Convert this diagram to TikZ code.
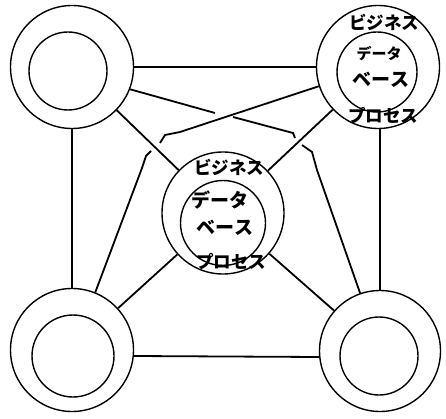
\documentclass[tikz,border=0pt]{standalone}
\usepackage{fontspec}
\newfontfamily\jp{Noto Sans CJK JP}
\begin{document}
\begin{tikzpicture}[x=1pt,y=-1pt,
  ring/.style={circle,draw,line width=1.4pt,minimum size=#1,inner sep=0pt},
  conn/.style={line width=1.8pt},
  lbl/.style={font=\jp\bfseries\fontsize{17.5}{17.5}\selectfont,inner sep=0pt},
  big/.style={font=\jp\bfseries\fontsize{19}{19}\selectfont,inner sep=0pt},
  small/.style={font=\jp\bfseries\fontsize{15}{15}\selectfont,inner sep=0pt}]
\useasboundingbox (0,0) rectangle (446,419);
% outer rings
\node[ring=123pt] (tl) at (72,67) {};
\node[ring=123pt] (tr) at (378,67) {};
\node[ring=122pt] (c) at (223,213) {};
\node[ring=123pt] (bl) at (72,350) {};
\node[ring=121pt] (br) at (380,351) {};
% inner rings
\node[ring=78pt] (tli) at (68,71) {};
\node[ring=80pt] (tri) at (377,72) {};
\node[ring=85pt] (ci) at (223,223) {};
\node[ring=82pt] (bli) at (73,356) {};
\node[ring=78pt] (bri) at (379,356) {};
% labels
\node[lbl] (cb) at (229,167) {ビジネス};
\node[big] (cd) at (220,200) {データ};
\node[big] (cv) at (225,228) {ベース};
\node[lbl] (cp) at (231,262) {プロセス};
\node[lbl] (tb) at (384,22) {ビジネス};
\node[small] (td) at (379,54) {データ};
\node[big] (tv) at (381,80) {ベース};
\node[lbl] (tp) at (383,116) {プロセス};
% straight connectors
\draw[conn] (tl) -- (tr);
\draw[conn] (tl.south) -- (bl.north);
\draw[conn] (tr.south -| br.north) -- (br.north);
\draw[conn] ([yshift=-6pt]bl.east) -- ([yshift=-6pt]br.west);
\draw[conn] (tl) -- (c);
\draw[conn] (tr) -- (c);
\draw[conn] (c) -- (bl);
\draw[conn] (c) -- (br);
% crossing line TL -> BR with gaps
\coordinate (a1) at (215,113);
\coordinate (a2) at (233,117);
\coordinate (a3) at (293,133);
\coordinate (a4) at (295,138);
\coordinate (a5) at (302,145);
\coordinate (a6) at (312,152);
\coordinate (a7) at (317,170);
\draw[conn] (tl.-21) -- (a1);
\draw[conn] (a2) -- (a3) -- (a4);
\draw[conn] (a5) -- (a6) -- (a7) -- (br.109);
% crossing line TR -> BL with gap
\coordinate (b1) at (180,132);
\coordinate (b2) at (165,135);
\coordinate (b3) at (160,143);
\coordinate (b4) at (151,151);
\coordinate (b5) at (146,156);
\coordinate (b6) at (142,168);
\draw[conn] (tr.198) -- (b1) -- (b2) -- (b3);
\draw[conn] (b4) -- (b5) -- (b6) -- (bl.68);
\end{tikzpicture}
\end{document}
